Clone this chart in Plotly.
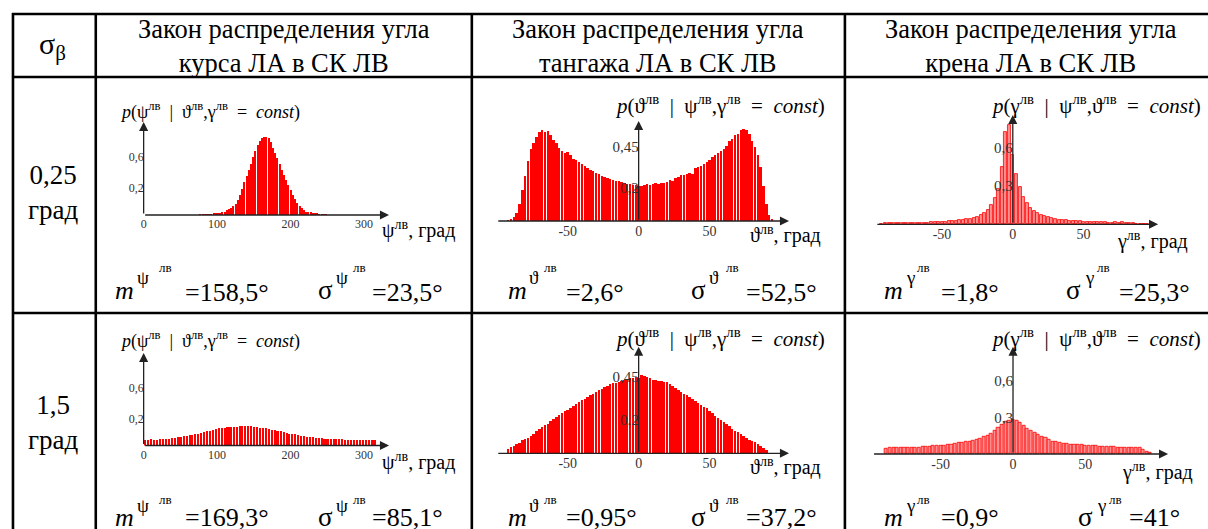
import numpy as np
import plotly.graph_objects as go

W, H = 1208, 529

# ---------------- data ----------------
# panel 1: p(psi | theta, gamma = const), sigma_beta = 0.25
p1_start, p1_step = 77, 3
p1_vals = [0.005, 0.005, 0.006, 0.007, 0.008, 0.010, 0.012, 0.016, 0.019, 0.023,
           0.029, 0.036, 0.047, 0.057, 0.072, 0.093, 0.119, 0.155, 0.207, 0.269,
           0.341, 0.403, 0.465, 0.527, 0.600, 0.662, 0.724, 0.765, 0.796, 0.807,
           0.807, 0.796, 0.755, 0.693, 0.641, 0.589, 0.527, 0.465, 0.414, 0.362,
           0.310, 0.259, 0.207, 0.165, 0.124, 0.093, 0.072, 0.052, 0.036, 0.031,
           0.026, 0.021, 0.017, 0.013, 0.010, 0.008, 0.007, 0.006]
# panel 2: p(theta | psi, gamma = const), sigma_beta = 0.25
p2_start, p2_step = -92, 2
p2_vals = [0.006, 0.015, 0.027, 0.049, 0.103, 0.188, 0.274, 0.365, 0.438, 0.474,
           0.511, 0.541, 0.553, 0.541, 0.547, 0.523, 0.492, 0.474, 0.444, 0.426,
           0.413, 0.420, 0.401, 0.377, 0.371, 0.359, 0.347, 0.334, 0.322, 0.310,
           0.304, 0.292, 0.286, 0.274, 0.268, 0.261, 0.255, 0.249, 0.243, 0.243,
           0.237, 0.231, 0.225, 0.225, 0.219, 0.219, 0.213, 0.213, 0.219, 0.225,
           0.219, 0.225, 0.231, 0.225, 0.231, 0.231, 0.237, 0.249, 0.243, 0.261,
           0.268, 0.280, 0.280, 0.286, 0.292, 0.286, 0.322, 0.328, 0.334, 0.347,
           0.359, 0.371, 0.389, 0.401, 0.413, 0.426, 0.438, 0.456, 0.486, 0.499,
           0.523, 0.529, 0.553, 0.559, 0.553, 0.529, 0.486, 0.450, 0.401, 0.328,
           0.213, 0.103, 0.036, 0.012]
# panel 3: p(gamma | psi, theta = const), sigma_beta = 0.25
p3_start, p3_step = -92.5, 2.5
p3_vals = [0.005, 0.008, 0.008, 0.010, 0.008, 0.008, 0.010, 0.010, 0.010, 0.010,
           0.010, 0.010, 0.012, 0.012, 0.016, 0.021, 0.021, 0.021, 0.021, 0.023,
           0.026, 0.027, 0.031, 0.034, 0.039, 0.045, 0.051, 0.060, 0.070, 0.090,
           0.113, 0.148, 0.203, 0.273, 0.445, 0.719, 0.773, 0.539, 0.391, 0.289,
           0.211, 0.164, 0.125, 0.102, 0.086, 0.074, 0.065, 0.057, 0.051, 0.045,
           0.037, 0.034, 0.034, 0.029, 0.026, 0.026, 0.023, 0.020, 0.016, 0.016,
           0.016, 0.016, 0.016, 0.016, 0.013, 0.013, 0.016, 0.013, 0.016, 0.013,
           0.010, 0.008, 0.005, 0.005, 0.004, 0.003]
# panel 4: p(psi | ...), sigma_beta = 1.5
p4_start, p4_step = 2, 4
p4_vals = [0.062, 0.062, 0.065, 0.060, 0.062, 0.065, 0.067, 0.069, 0.072, 0.075,
           0.080, 0.086, 0.090, 0.096, 0.100, 0.107, 0.111, 0.114, 0.121, 0.127,
           0.138, 0.145, 0.155, 0.162, 0.169, 0.176, 0.183, 0.186, 0.189, 0.193,
           0.196, 0.196, 0.200, 0.198, 0.200, 0.200, 0.199, 0.196, 0.193, 0.186,
           0.183, 0.179, 0.173, 0.165, 0.158, 0.152, 0.145, 0.138, 0.131, 0.124,
           0.121, 0.114, 0.107, 0.103, 0.096, 0.090, 0.086, 0.083, 0.080, 0.075,
           0.075, 0.072, 0.072, 0.069, 0.069, 0.065, 0.065, 0.065, 0.062, 0.062,
           0.059, 0.059, 0.059, 0.055, 0.055, 0.052, 0.055, 0.052, 0.055]
# panel 5: p(theta | ...), sigma_beta = 1.5
p5_start, p5_step = -92, 2
p5_vals = [0.029, 0.038, 0.047, 0.056, 0.065, 0.079, 0.088, 0.094, 0.106, 0.118,
           0.135, 0.147, 0.156, 0.168, 0.176, 0.191, 0.206, 0.218, 0.229, 0.238,
           0.250, 0.259, 0.270, 0.282, 0.294, 0.306, 0.315, 0.324, 0.335, 0.347,
           0.353, 0.365, 0.373, 0.382, 0.391, 0.400, 0.412, 0.415, 0.418, 0.424,
           0.429, 0.435, 0.438, 0.444, 0.447, 0.453, 0.447, 0.465, 0.459, 0.453,
           0.444, 0.435, 0.432, 0.429, 0.426, 0.424, 0.421, 0.412, 0.400, 0.388,
           0.376, 0.365, 0.353, 0.344, 0.335, 0.324, 0.312, 0.297, 0.285, 0.276,
           0.268, 0.253, 0.238, 0.224, 0.209, 0.197, 0.185, 0.173, 0.162, 0.147,
           0.135, 0.126, 0.118, 0.106, 0.094, 0.082, 0.074, 0.068, 0.056, 0.044,
           0.032, 0.024]
# panel 6: p(gamma | ...), sigma_beta = 1.5
p6_start, p6_step = -87.5, 2.5
p6_vals = [0.041, 0.049, 0.055, 0.053, 0.052, 0.052, 0.053, 0.053, 0.055, 0.055,
           0.059, 0.060, 0.061, 0.066, 0.066, 0.068, 0.071, 0.075, 0.080, 0.084,
           0.089, 0.094, 0.100, 0.105, 0.111, 0.117, 0.127, 0.138, 0.153, 0.168,
           0.189, 0.217, 0.242, 0.262, 0.275, 0.279, 0.271, 0.254, 0.234, 0.209,
           0.189, 0.172, 0.160, 0.144, 0.130, 0.115, 0.105, 0.097, 0.090, 0.086,
           0.082, 0.080, 0.077, 0.075, 0.074, 0.071, 0.069, 0.067, 0.066, 0.063,
           0.061, 0.059, 0.057, 0.056, 0.055, 0.055, 0.055, 0.055, 0.053, 0.051,
           0.049, 0.033, 0.021, 0.008]

# tick labels
x_ticks_psi = [0, 100, 200, 300]
x_ticks_ang = [-50, 0, 50]
p1_yticks, p1_ytext = [0.28, 0.6], ["0,2", "0,6"]
p2_yticks, p2_ytext = [0.2, 0.45], ["0,2", "0,45"]
p3_yticks, p3_ytext = [0.3, 0.6], ["0,3", "0,6"]
p4_yticks, p4_ytext = [0.28, 0.6], ["0,2", "0,6"]
p5_yticks, p5_ytext = [0.2, 0.45], ["0.2", "0,45"]
p6_yticks, p6_ytext = [0.3, 0.6], ["0,3", "0,6"]

# table text
header_cols = ["Закон распределения угла<br>курса ЛА в СК ЛВ",
               "Закон распределения угла<br>тангажа ЛА в СК ЛВ",
               "Закон распределения угла<br>крена ЛА в СК ЛВ"]
row_labels = ["0,25<br>град", "1,5<br>град"]
col_syms = ["ψ", "ϑ", "γ"]
m_vals = [["158,5°", "2,6°", "1,8°"], ["169,3°", "0,95°", "0,9°"]]
s_vals = [["23,5°", "52,5°", "25,3°"], ["85,1°", "37,2°", "41°"]]

# ---------------- layout helpers ----------------
def X(px):
    return px / W

def Y(py):
    return 1 - py / H

SERIF = "Liberation Serif, Times New Roman, serif"
SP = "\u2002"

fig = go.Figure()

panels = [
    dict(start=p1_start, step=p1_step, vals=p1_vals, xpx=(141, 387), xr=(0, 334), ypx=(215, 122), yt=0.962,
         yticks=p1_yticks, ytext=p1_ytext, xticks=x_ticks_psi, wide=False, tf=12, xtf=12),
    dict(start=p2_start, step=p2_step, vals=p2_vals, xpx=(495, 788), xr=(-100, 106), ypx=(221, 121), yt=0.608,
         yticks=p2_yticks, ytext=p2_ytext, xticks=x_ticks_ang, wide=False, tf=15, xtf=14),
    dict(start=p3_start, step=p3_step, vals=p3_vals, xpx=(875, 1158), xr=(-96.7, 102.6), ypx=(224.3, 115), yt=0.854,
         yticks=p3_yticks, ytext=p3_ytext, xticks=x_ticks_ang, wide=True, tf=15, xtf=14),
    dict(start=p4_start, step=p4_step, vals=p4_vals, xpx=(141, 387), xr=(0, 334), ypx=(445.5, 353), yt=0.957,
         yticks=p4_yticks, ytext=p4_ytext, xticks=x_ticks_psi, wide=False, tf=12, xtf=12),
    dict(start=p5_start, step=p5_step, vals=p5_vals, xpx=(495, 788), xr=(-100, 106), ypx=(453.3, 346.7), yt=0.627,
         yticks=p5_yticks, ytext=p5_ytext, xticks=x_ticks_ang, wide=False, tf=15, xtf=14),
    dict(start=p6_start, step=p6_step, vals=p6_vals, xpx=(871.7, 1168), xr=(-97.1, 107.2), ypx=(454, 346.7), yt=0.88,
         yticks=p6_yticks, ytext=p6_ytext, xticks=x_ticks_ang, wide=True, tf=15, xtf=14),
]

annotations = []
layout_axes = {}
for i, p in enumerate(panels, start=1):
    xs = p["start"] + p["step"] * np.arange(len(p["vals"]))
    xa = "x" if i == 1 else f"x{i}"
    ya = "y" if i == 1 else f"y{i}"
    if p["wide"]:
        marker = dict(color="#ff8f8f", line=dict(color="#ff0000", width=0.8))
        bw = p["step"] * 0.85
    else:
        marker = dict(color="#ff0000", line=dict(width=0))
        bw = p["step"] * 0.68
    fig.add_trace(go.Bar(x=xs, y=p["vals"], width=bw, marker=marker, xaxis=xa, yaxis=ya,
                         showlegend=False, hoverinfo="skip"))
    x0p, x1p = p["xpx"]
    yb, ytp = p["ypx"]
    xr0, xr1 = p["xr"]
    zero_px = x0p + (0 - xr0) / (xr1 - xr0) * (x1p - x0p)
    layout_axes["xaxis" if i == 1 else f"xaxis{i}"] = dict(
        domain=[X(x0p), X(x1p)], range=[xr0, xr1], anchor=ya,
        showgrid=False, zeroline=False, showline=False, ticks="",
        tickmode="array", tickvals=p["xticks"], ticktext=[str(v) for v in p["xticks"]],
        tickfont=dict(family=SERIF, size=p["xtf"], color="#333"),
        fixedrange=True)
    layout_axes["yaxis" if i == 1 else f"yaxis{i}"] = dict(
        domain=[Y(yb), Y(ytp)], range=[0, p["yt"]], anchor="free", position=X(zero_px),
        showgrid=False, zeroline=False, showline=False, ticks="",
        tickmode="array", tickvals=p["yticks"], ticktext=p["ytext"],
        tickfont=dict(family=SERIF, size=p["tf"], color="#333"),
        fixedrange=True)
    # axis arrows
    annotations.append(dict(x=xr1, y=0, ax=xr0, ay=0, xref=xa, yref=ya, axref=xa, ayref=ya,
                            text="", showarrow=True, arrowhead=2, arrowsize=1.4, arrowwidth=1.3,
                            arrowcolor="#222", standoff=0, startstandoff=0))
    annotations.append(dict(x=0, y=p["yt"], ax=0, ay=0, xref=xa, yref=ya, axref=xa, ayref=ya,
                            text="", showarrow=True, arrowhead=2, arrowsize=1.4, arrowwidth=1.3,
                            arrowcolor="#222", standoff=0, startstandoff=0))

fig.update_layout(**layout_axes)

def txt(x, y, s, size, anchor="center", yanchor="middle"):
    annotations.append(dict(x=X(x), y=Y(y), xref="paper", yref="paper", text=s, showarrow=False,
                            xanchor=anchor, yanchor=yanchor,
                            font=dict(family=SERIF, size=size, color="black")))

# header
txt(50, 46, "σ<sub>β</sub>", 30)
for cx, s in zip([282, 657, 1031], header_cols):
    txt(cx, 46, s, 26.5)
txt(51, 193, row_labels[0], 27)
txt(51, 422, row_labels[1], 27)

# panel titles
titles = [
    f"<i>p</i>(ψ<sup>лв</sup>{SP}|{SP}ϑ<sup>лв</sup>,γ<sup>лв</sup>{SP}={SP}<i>const</i>)",
    f"<i>p</i>(ϑ<sup>лв</sup>{SP}|{SP}ψ<sup>лв</sup>,γ<sup>лв</sup>{SP}={SP}<i>const</i>)",
    f"<i>p</i>(γ<sup>лв</sup>{SP}|{SP}ψ<sup>лв</sup>,ϑ<sup>лв</sup>{SP}={SP}<i>const</i>)",
]
title_pos = [(115, 111, 18), (612, 104, 21), (988, 104, 21),
             (115, 340, 18), (612, 337, 21), (988, 337, 21)]
for k, (tx, ty, fs) in enumerate(title_pos):
    txt(tx, ty, titles[k % 3], fs, anchor="left")

# axis labels
xl_pos = [(378, 229), (747, 234), (1115, 240), (378, 461), (747, 466), (1120, 471)]
for k, (tx, ty) in enumerate(xl_pos):
    txt(tx, ty, col_syms[k % 3] + "<sup>лв</sup>, град", 20, anchor="left")

# statistics
stat_pos = {
    0: dict(m=122, ms=140, ml=163, me=180, s=323, ss=340, sl=357, se=368),
    1: dict(m=516, ms=532, ml=549, me=562, s=697, ss=713, sl=731, se=743),
    2: dict(m=893, ms=910, ml=923, me=938, s=1073, ss=1089, sl=1103, se=1117),
}
row_y = [dict(m=290, sym=277, lv=267, eq=292), dict(m=517, sym=505, lv=499, eq=517)]
for r in range(2):
    ry = row_y[r]
    for c in range(3):
        sp = dict(stat_pos[c])
        if r == 1 and c == 2:
            sp.update(s=1085, ss=1101, sl=1115, se=1127)
        txt(sp["m"], ry["m"], "<i>m</i>", 26)
        txt(sp["ms"], ry["sym"], col_syms[c], 19)
        txt(sp["ml"], ry["lv"], "лв", 13)
        txt(sp["me"], ry["eq"], "=" + m_vals[r][c], 26, anchor="left")
        txt(sp["s"], ry["m"], "σ", 27)
        txt(sp["ss"], ry["sym"], col_syms[c], 19)
        txt(sp["sl"], ry["lv"], "лв", 13)
        txt(sp["se"], ry["eq"], "=" + s_vals[r][c], 26, anchor="left")

# table lines
shapes = []
def line(x0, y0, x1, y1):
    shapes.append(dict(type="line", xref="paper", yref="paper", x0=X(x0), y0=Y(y0), x1=X(x1), y1=Y(y1),
                       line=dict(color="black", width=2.6)))
for yy in [14, 77, 313]:
    line(9, yy, W, yy)
for xx in [10, 93, 470, 844]:
    line(xx, 13, xx, H)

fig.update_layout(
    width=W, height=H, margin=dict(l=0, r=0, t=0, b=0),
    paper_bgcolor="white", plot_bgcolor="rgba(0,0,0,0)",
    bargap=0, barmode="overlay",
    annotations=annotations, shapes=shapes,
    font=dict(family=SERIF),
)

fig.write_html("out.html", config={"displayModeBar": False},
               post_script="document.body.style.margin='0px';document.body.style.overflow='hidden';")
